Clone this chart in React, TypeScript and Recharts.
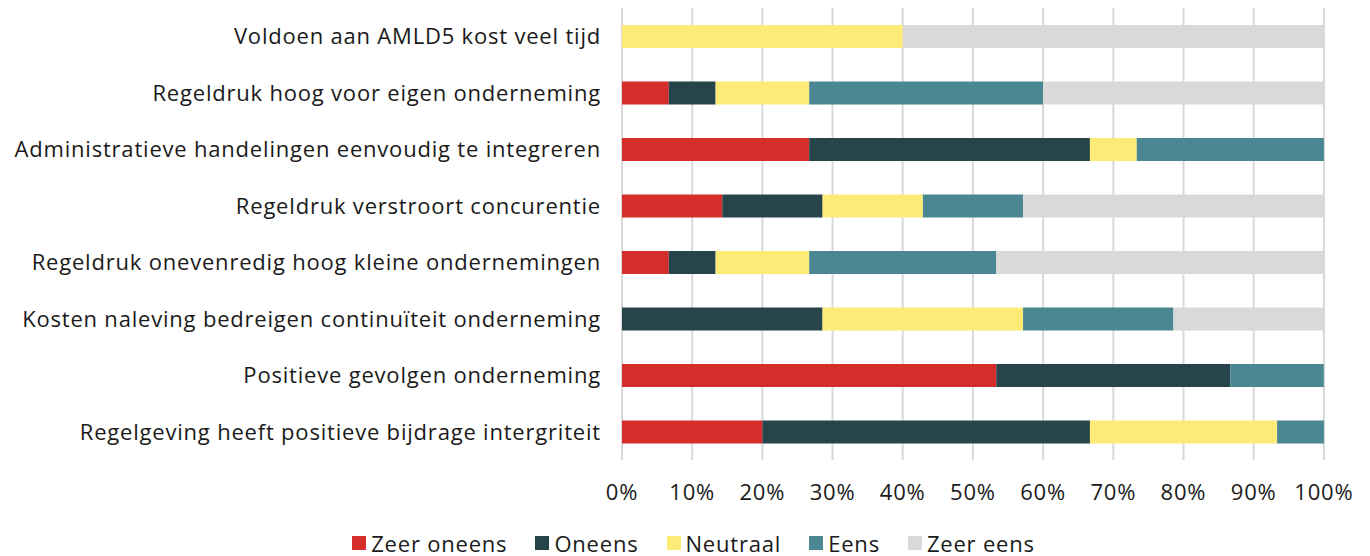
import { BarChart, Bar, XAxis, YAxis, CartesianGrid, Legend } from "recharts";

const categories = [
  "Voldoen aan AMLD5 kost veel tijd",
  "Regeldruk hoog voor eigen onderneming",
  "Administratieve handelingen eenvoudig te integreren",
  "Regeldruk verstroort concurentie",
  "Regeldruk onevenredig hoog kleine ondernemingen",
  "Kosten naleving bedreigen continuïteit onderneming",
  "Positieve gevolgen onderneming",
  "Regelgeving heeft positieve bijdrage intergriteit",
];

const zeerOneens = [0, 6.67, 26.67, 14.29, 6.67, 0, 53.33, 20];
const oneens = [0, 6.67, 40, 14.29, 6.67, 28.57, 33.33, 46.67];
const neutraal = [40, 13.33, 6.67, 14.29, 13.33, 28.57, 0, 26.67];
const eens = [0, 33.33, 26.67, 14.29, 26.67, 21.43, 13.33, 6.67];
const zeerEens = [60, 40, 0, 42.86, 46.67, 21.43, 0, 0];

const xTicks = [0, 10, 20, 30, 40, 50, 60, 70, 80, 90, 100];

const series = [
  { key: "zeerOneens", name: "Zeer oneens", color: "#D52D2A" },
  { key: "oneens", name: "Oneens", color: "#26444A" },
  { key: "neutraal", name: "Neutraal", color: "#FDEB77" },
  { key: "eens", name: "Eens", color: "#4A8793" },
  { key: "zeerEens", name: "Zeer eens", color: "#D9D9D9" },
];

const data = categories.map((name, i) => ({
  name,
  zeerOneens: zeerOneens[i],
  oneens: oneens[i],
  neutraal: neutraal[i],
  eens: eens[i],
  zeerEens: zeerEens[i],
}));

const FONT = "'Open Sans', 'Noto Sans', sans-serif";
const TEXT = "#1a1a1a";
const FS = 22;
const LS = 0.8;

function LegendRow() {
  return (
    <div
      style={{
        display: "flex",
        justifyContent: "center",
        gap: 28,
        height: 24,
        alignItems: "center",
        fontFamily: FONT,
        fontSize: FS,
        letterSpacing: LS,
        color: TEXT,
        paddingLeft: 17,
      }}
    >
      {series.map((s) => (
        <div key={s.key} style={{ display: "flex", alignItems: "center" }}>
          <span style={{ width: 14, height: 14, background: s.color, marginRight: 5, display: "inline-block" }} />
          <span>{s.name}</span>
        </div>
      ))}
    </div>
  );
}

export default function App() {
  const tickStyle = { fill: TEXT, fontSize: FS, fontFamily: FONT, letterSpacing: LS };
  return (
    <div style={{ position: "absolute", left: 0, top: 0, width: 1370, height: 556, background: "#fff" }}>
      <BarChart
        width={1370}
        height={556}
        data={data}
        layout="vertical"
        margin={{ top: 8, right: 46, bottom: 42, left: 0 }}
        barSize={23}
      >
        <CartesianGrid horizontal={false} stroke="#D9D9D9" strokeWidth={2} />
        <XAxis
          type="number"
          domain={[0, 100]}
          ticks={xTicks}
          tickFormatter={(v: number) => `${v}%`}
          axisLine={false}
          tickLine={false}
          tickSize={0}
          tickMargin={24}
          interval={0}
          tick={tickStyle}
        />
        <YAxis
          type="category"
          dataKey="name"
          width={622}
          axisLine={false}
          tickLine={false}
          tickSize={0}
          tickMargin={21}
          interval={0}
          tick={tickStyle}
        />
        <Legend
          verticalAlign="bottom"
          wrapperStyle={{ top: 531, left: 0, width: 1370 }}
          content={() => <LegendRow />}
        />
        {series.map((s) => (
          <Bar key={s.key} dataKey={s.key} name={s.name} stackId="a" fill={s.color} isAnimationActive={false} />
        ))}
      </BarChart>
    </div>
  );
}
